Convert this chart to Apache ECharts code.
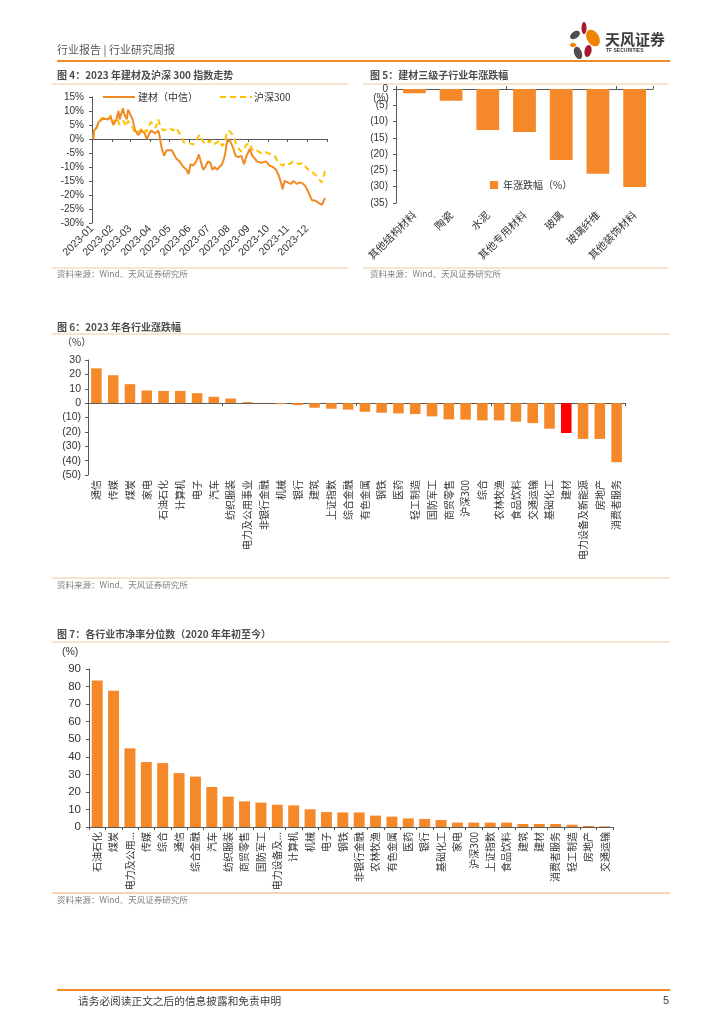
<!DOCTYPE html>
<html><head><meta charset="utf-8">
<script src="https://cdn.jsdelivr.net/npm/echarts@6/dist/echarts.min.js"></script>
<style>html,body{margin:0;padding:0;background:#fff;}#c{width:724px;height:1024px;}</style>
</head><body><div id="c"></div>
<script>
// ---- Chart 4: 2023 建材 vs 沪深300 ----
const jcDates = ['2023-01-03','2023-01-04','2023-01-06','2023-01-08','2023-01-11','2023-01-16','2023-01-21','2023-01-26','2023-01-30','2023-02-03','2023-02-08','2023-02-11','2023-02-13','2023-02-18','2023-02-20','2023-02-24','2023-02-26','2023-03-01','2023-03-05','2023-03-09','2023-03-14','2023-03-19','2023-03-24','2023-03-27','2023-03-31','2023-04-03','2023-04-09','2023-04-14','2023-04-16','2023-04-19','2023-04-23','2023-04-27','2023-05-05','2023-05-07','2023-05-12','2023-05-17','2023-05-23','2023-05-28','2023-05-31','2023-06-03','2023-06-07','2023-06-12','2023-06-16','2023-06-20','2023-06-23','2023-06-26','2023-06-30','2023-07-04','2023-07-07','2023-07-11','2023-07-14','2023-07-18','2023-07-22','2023-07-25','2023-07-27','2023-07-29','2023-07-31','2023-08-04','2023-08-08','2023-08-12','2023-08-16','2023-08-21','2023-08-25','2023-08-29','2023-09-03','2023-09-07','2023-09-11','2023-09-14','2023-09-21','2023-09-28','2023-10-04','2023-10-09','2023-10-14','2023-10-18','2023-10-22','2023-10-24','2023-10-27','2023-11-01','2023-11-06','2023-11-10','2023-11-15','2023-11-20','2023-11-25','2023-11-29','2023-12-03','2023-12-07','2023-12-09','2023-12-14','2023-12-17','2023-12-20','2023-12-24','2023-12-27','2023-12-29'];
const jcValues = [0,3,3.5,4,6,7,7.2,7,8,5,7,10,7,11,9,7,10.5,10,7,3,1.5,3,2,0,2,3,2,3,1,-3,-6,-4,-4,-4.5,-7,-8,-10,-11,-12.5,-9,-9.5,-8,-5.5,-9,-11,-10,-8,-8.5,-11,-10,-11,-10,-9,-7,-5,-2,0,-1,-3,-6,-6.5,-6,-9,-6,-3.5,-6,-7,-8,-8.5,-8,-9.5,-10,-11,-13,-16,-18,-15,-15.5,-16,-15,-16,-15.5,-16,-17,-19,-21,-22,-22,-21.5,-23,-23.5,-23,-21];
const hsDates = ['2023-01-03','2023-01-04','2023-01-08','2023-01-12','2023-01-16','2023-01-21','2023-01-26','2023-01-30','2023-02-03','2023-02-09','2023-02-13','2023-02-19','2023-02-23','2023-02-26','2023-03-02','2023-03-05','2023-03-09','2023-03-12','2023-03-16','2023-03-21','2023-03-26','2023-03-29','2023-04-02','2023-04-06','2023-04-10','2023-04-14','2023-04-17','2023-04-22','2023-04-27','2023-05-02','2023-05-07','2023-05-12','2023-05-17','2023-05-23','2023-05-28','2023-06-02','2023-06-07','2023-06-12','2023-06-17','2023-06-23','2023-06-28','2023-07-03','2023-07-08','2023-07-13','2023-07-18','2023-07-22','2023-07-26','2023-07-29','2023-08-02','2023-08-05','2023-08-09','2023-08-13','2023-08-17','2023-08-21','2023-08-25','2023-08-29','2023-09-03','2023-09-07','2023-09-12','2023-09-16','2023-09-21','2023-09-26','2023-10-01','2023-10-06','2023-10-12','2023-10-15','2023-10-20','2023-10-24','2023-10-30','2023-11-04','2023-11-09','2023-11-14','2023-11-19','2023-11-24','2023-11-29','2023-12-05','2023-12-10','2023-12-15','2023-12-20','2023-12-24','2023-12-26','2023-12-29'];
const hsValues = [0,3,4,6,7.5,7.5,7,8.5,6,7.5,5,6.5,4.5,6.5,5,4,2,1.5,3,4,2.5,3.5,6,5.5,4,7,4.5,3,3.5,4,3,4,2,-1,-1.5,-1.5,-2,-0.5,1.5,-1,-2,-0.5,-2,-1.5,-0.5,-2.5,-1.5,2,3,2.5,1,-2,-3.5,-4.5,-3.5,-2,-1.5,-4,-3.5,-4.5,-5,-4.5,-5,-5.5,-6,-7.5,-9,-9.5,-8.5,-9,-8,-8.5,-9,-8.5,-10,-11.5,-12,-13,-14.5,-15.5,-14,-11.5];
const seriesNames4 = ['建材（中信）', '沪深300'];

// ---- Chart 5: 建材三级子行业年涨跌幅 ----
const cat5 = ['其他结构材料','陶瓷','水泥','其他专用材料','玻璃','玻璃纤维','其他装饰材料'];
const val5 = [-1.3,-3.6,-12.6,-13.2,-21.8,-26.0,-30.1];

// ---- Chart 6: 2023 年各行业涨跌幅 ----
const cat6 = ['通信','传媒','煤炭','家电','石油石化','计算机','电子','汽车','纺织服装','电力及公用事业','非银行金融','机械','银行','建筑','上证指数','综合金融','有色金属','钢铁','医药','轻工制造','国防军工','商贸零售','沪深300','综合','农林牧渔','食品饮料','交通运输','基础化工','建材','电力设备及新能源','房地产','消费者服务'];
const val6 = [24.2,19.4,13.2,8.8,8.5,8.5,6.9,4.4,3.2,0.7,0.2,-0.7,-1.4,-3.2,-3.9,-4.5,-6.0,-6.7,-7.2,-7.6,-9.2,-11.3,-11.5,-12.0,-12.0,-12.9,-13.9,-17.8,-20.8,-24.9,-24.9,-41.1];
const highlight6 = '建材';

// ---- Chart 7: 各行业市净率分位数 ----
const cat7 = ['石油石化','煤炭','电力及公用事业','传媒','综合','通信','综合金融','汽车','纺织服装','商贸零售','国防军工','电力设备及新能源','计算机','机械','电子','钢铁','非银行金融','农林牧渔','有色金属','医药','银行','基础化工','家电','沪深300','上证指数','食品饮料','建筑','建材','消费者服务','轻工制造','房地产','交通运输'];
const val7 = [83.5,77.6,44.8,37.0,36.4,30.7,28.7,22.8,17.3,14.6,13.9,12.7,12.3,10.1,8.5,8.3,8.3,6.5,5.9,4.9,4.6,4.0,2.5,2.5,2.5,2.5,1.7,1.7,1.7,1.3,0.6,0.4];

const FF = "'Liberation Sans','Noto Sans CJK SC',sans-serif";
const CJK = "'Noto Sans CJK SC','Liberation Sans',sans-serif";
const ORANGE = '#F5892A';
const C_JC = '#F08A24';
const C_HS = '#FFC000';
const AXIS = '#595959';
const LBL = '#333333';
const LINE_LIGHT = '#F8C69A';

function txt(x, y, text, size, color, weight, align, family) {
  return { type: 'text', x: x, y: y, silent: true,
    style: { text: text, fill: color, fontSize: size, fontWeight: weight || 'normal',
      fontFamily: family || CJK, textAlign: align || 'left', align: align || 'left',
      textVerticalAlign: 'middle', verticalAlign: 'middle' } };
}
function hline(x1, x2, y, color, w, dash) {
  const st = { stroke: color, lineWidth: w };
  if (dash) st.lineDash = dash;
  return { type: 'line', silent: true, shape: { x1: x1, y1: y, x2: x2, y2: y }, style: st };
}
function petal(cx, cy, rx, ry, rot, color) {
  return { type: 'ellipse', x: cx, y: cy, rotation: rot * Math.PI / 180, silent: true,
    shape: { cx: 0, cy: 0, rx: rx, ry: ry }, style: { fill: color } };
}
const paren = v => v < 0 ? '(' + (-v) + ')' : String(v);
const ymLabel = v => { const d = new Date(v); if (d.getFullYear() > 2023) return ''; const m = d.getMonth() + 1; return d.getFullYear() + '-' + (m < 10 ? '0' + m : m); };

const graphics = [
  txt(57, 50, '行业报告 | 行业研究周报', 11, '#595959'),
  hline(57, 670, 61, '#F0892A', 2),
  petal(575, 35, 5.5, 3.5, 35, '#4D4D4D'),
  petal(584, 28, 2.5, 6, 0, '#A6192E'),
  petal(593, 38, 6, 9, 30, '#F08300'),
  petal(573, 45, 3, 2.3, 0, '#F08300'),
  petal(578, 53, 3.8, 6.5, 20, '#4D4D4D'),
  petal(588, 51, 3.5, 6, -10, '#A6192E'),
  txt(605, 39, '天风证券', 15, '#3C3C3C', 'bold'),
  txt(606, 51, 'TF SECURITIES', 5, '#3C3C3C', 'bold', 'left', FF),
  // chart 4 / 5 frames
  txt(57, 75, '图 4：2023 年建材及沪深 300 指数走势', 10, '#4D4D4D', 'bold'),
  txt(370, 75, '图 5：建材三级子行业年涨跌幅', 10, '#4D4D4D', 'bold'),
  hline(52, 348, 84, LINE_LIGHT, 1),
  hline(363, 668, 84, LINE_LIGHT, 1),
  hline(52, 348, 268, LINE_LIGHT, 1),
  hline(363, 668, 268, LINE_LIGHT, 1),
  txt(57, 274, '资料来源：Wind、天风证券研究所', 8.5, '#7F7F7F'),
  txt(370, 274, '资料来源：Wind、天风证券研究所', 8.5, '#7F7F7F'),
  // chart 4 legend
  hline(103, 135, 97, C_JC, 2),
  txt(138, 97, seriesNames4[0], 10, LBL),
  hline(220, 252, 97, C_HS, 2, [6, 4]),
  txt(254, 97, seriesNames4[1], 10, LBL),
  txt(381, 98, '(%)', 10, LBL, 'normal', 'center', FF),
  // chart 6
  txt(57, 327, '图 6：2023 年各行业涨跌幅', 10, '#4D4D4D', 'bold'),
  hline(52, 670, 334, LINE_LIGHT, 1),
  txt(62, 342, '（%）', 10, LBL),
  hline(52, 670, 578, LINE_LIGHT, 1),
  txt(57, 585, '资料来源：Wind、天风证券研究所', 8.5, '#7F7F7F'),
  // chart 7
  txt(57, 634, '图 7：各行业市净率分位数（2020 年年初至今）', 10, '#4D4D4D', 'bold'),
  hline(52, 670, 642, LINE_LIGHT, 1),
  txt(62, 652, '(%)', 10.5, LBL, 'normal', 'left', FF),
  hline(52, 670, 893, '#F2A66A', 1),
  txt(57, 900, '资料来源：Wind、天风证券研究所', 8.5, '#7F7F7F'),
  // footer
  hline(57, 670, 990, '#F0892A', 2),
  txt(78, 1001, '请务必阅读正文之后的信息披露和免责申明', 10.7, '#404040'),
  txt(669, 1001, '5', 11, '#404040', 'normal', 'right', FF)
];

const baseLabel = { color: LBL, fontFamily: FF, fontSize: 10 };
const catLabel = { color: LBL, fontFamily: CJK, fontSize: 10 };
const axLine = { show: true, lineStyle: { color: AXIS, width: 1 } };

const option = {
  animation: false,
  backgroundColor: '#fff',
  graphic: graphics,
  grid: [
    { left: 92, top: 97, width: 235, height: 126 },
    { left: 396, top: 89, width: 257, height: 114 },
    { left: 88, top: 360, width: 537, height: 115 },
    { left: 89, top: 669, width: 524, height: 158 }
  ],
  legend: [
    { data: ['年涨跌幅（%）'], left: 490, top: 180, padding: 0, icon: 'rect', itemWidth: 8, itemHeight: 8, itemGap: 4,
      textStyle: { fontFamily: CJK, fontSize: 10, color: LBL } }
  ],
  xAxis: [
    { type: 'time', gridIndex: 0, position: 'bottom', min: '2023-01-01', max: '2024-01-01', splitNumber: 12,
      minInterval: 27 * 864e5, maxInterval: 32 * 864e5,
      axisLine: { show: false, onZero: false }, axisTick: { show: false }, splitLine: { show: false },
      axisLabel: Object.assign({}, baseLabel, { fontSize: 10.5, rotate: 45, margin: 4, formatter: ymLabel, showMaxLabel: false, hideOverlap: false }) },
    { type: 'time', gridIndex: 0, position: 'bottom', min: '2023-01-01', max: '2024-01-01', splitNumber: 12,
      minInterval: 27 * 864e5, maxInterval: 32 * 864e5,
      axisLine: { show: true, onZero: true, lineStyle: { color: AXIS } }, axisTick: { show: true, length: 3, lineStyle: { color: AXIS } },
      splitLine: { show: false }, axisLabel: { show: false } },
    { type: 'category', gridIndex: 1, position: 'bottom', data: cat5,
      axisLine: { show: false, onZero: false }, axisTick: { show: false },
      axisLabel: Object.assign({}, catLabel, { fontSize: 10.5, rotate: 45, margin: 10, interval: 0 }) },
    { type: 'category', gridIndex: 1, position: 'top', data: cat5,
      axisLine: Object.assign({ onZero: false }, axLine), axisTick: { show: true, length: 3, lineStyle: { color: AXIS } },
      axisLabel: { show: false } },
    { type: 'category', gridIndex: 2, position: 'bottom', data: cat6,
      axisLine: { show: false, onZero: false }, axisTick: { show: false },
      axisLabel: Object.assign({}, catLabel, { rotate: 90, margin: 5, interval: 0 }) },
    { type: 'category', gridIndex: 2, position: 'bottom', data: cat6,
      axisLine: Object.assign({ onZero: true }, axLine), axisTick: { show: true, length: 3, lineStyle: { color: AXIS } },
      axisLabel: { show: false } },
    { type: 'category', gridIndex: 3, position: 'bottom', data: cat7,
      axisLine: axLine, axisTick: { show: true, length: 3, lineStyle: { color: AXIS } },
      axisLabel: Object.assign({}, catLabel, { rotate: 90, margin: 5, interval: 0,
        formatter: s => s.length > 6 ? s.slice(0, 5) + '...' : s }) }
  ],
  yAxis: [
    { type: 'value', gridIndex: 0, min: -30, max: 15, interval: 5, splitLine: { show: false },
      axisLine: axLine, axisTick: { show: true, length: 3, lineStyle: { color: AXIS } },
      axisLabel: Object.assign({}, baseLabel, { formatter: '{value}%', margin: 8 }) },
    { type: 'value', gridIndex: 1, min: -35, max: 0, interval: 5, splitLine: { show: false },
      axisLine: axLine, axisTick: { show: true, length: 3, lineStyle: { color: AXIS } },
      axisLabel: Object.assign({}, baseLabel, { formatter: paren, margin: 8 }) },
    { type: 'value', gridIndex: 2, min: -50, max: 30, interval: 10, splitLine: { show: false },
      axisLine: axLine, axisTick: { show: true, length: 3, lineStyle: { color: AXIS } },
      axisLabel: Object.assign({}, baseLabel, { fontSize: 10.5, formatter: paren, margin: 7 }) },
    { type: 'value', gridIndex: 3, min: 0, max: 90, interval: 10, splitLine: { show: false },
      axisLine: axLine, axisTick: { show: true, length: 3, lineStyle: { color: AXIS } },
      axisLabel: Object.assign({}, baseLabel, { fontSize: 11.5, margin: 8 }) }
  ],
  series: [
    { name: seriesNames4[1], type: 'line', xAxisIndex: 0, yAxisIndex: 0, symbol: 'none',
      data: hsDates.map((d, i) => [d, hsValues[i]]),
      lineStyle: { color: C_HS, width: 2, type: [6, 4] }, itemStyle: { color: C_HS } },
    { name: seriesNames4[0], type: 'line', xAxisIndex: 0, yAxisIndex: 0, symbol: 'none',
      data: jcDates.map((d, i) => [d, jcValues[i]]),
      lineStyle: { color: C_JC, width: 2 }, itemStyle: { color: C_JC } },
    { name: '年涨跌幅（%）', type: 'bar', xAxisIndex: 2, yAxisIndex: 1, data: val5, barWidth: '62%',
      itemStyle: { color: ORANGE } },
    { name: '2023年各行业涨跌幅', type: 'bar', xAxisIndex: 4, yAxisIndex: 2, data: val6, barWidth: '63%',
      itemStyle: { color: p => p.name === highlight6 ? '#FF0000' : ORANGE } },
    { name: '各行业市净率分位数', type: 'bar', xAxisIndex: 6, yAxisIndex: 3, data: val7, barWidth: '67%',
      itemStyle: { color: ORANGE } }
  ]
};
const chart = echarts.init(document.getElementById('c'), null, { renderer: 'canvas' });
chart.setOption(option);
</script>
</body></html>
